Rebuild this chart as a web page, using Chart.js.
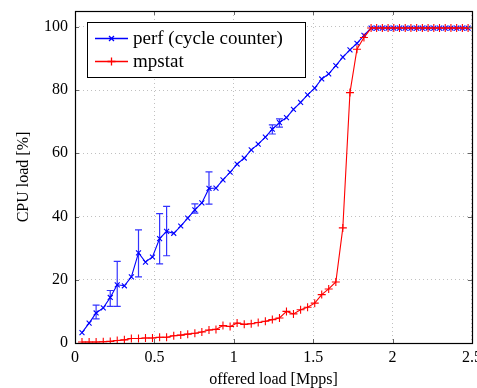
<!DOCTYPE html>
<html lang="en">
<head>
<meta charset="UTF-8" />
<title>CPU load vs offered load</title>
<script src="https://cdn.jsdelivr.net/npm/chart.js"></script>
<style>
  body { margin: 0; background: #fff; }
</style>
</head>
<body>
<canvas id="myChart" width="477" height="388"></canvas>
<script>
// offered load [Mpps], shared by both series
const loadX = [
  0.044, 0.089, 0.133, 0.178, 0.222, 0.266, 0.311, 0.355, 0.400, 0.444,
  0.488, 0.533, 0.577, 0.622, 0.666, 0.710, 0.755, 0.799, 0.844, 0.888,
  0.932, 0.977, 1.021, 1.066, 1.110, 1.154, 1.199, 1.243, 1.288, 1.332,
  1.376, 1.421, 1.465, 1.510, 1.554, 1.598, 1.643, 1.687, 1.732, 1.776,
  1.820, 1.865, 1.900, 1.936, 1.972, 2.008, 2.044, 2.080, 2.116, 2.152,
  2.188, 2.224, 2.260, 2.296, 2.332, 2.368, 2.404, 2.440, 2.476
];
// CPU load [%] measured with perf
const perfY = [
  3.3, 6.3, 9.5, 11.1, 14.4, 18.4, 18.1, 20.9, 28.5, 25.6,
  27.2, 33.0, 35.3, 34.7, 37.0, 39.5, 42.1, 44.3, 48.9, 49.0,
  51.6, 54.0, 56.6, 58.5, 61.1, 62.9, 65.1, 67.6, 69.7, 71.3,
  73.9, 76.1, 78.5, 80.6, 83.5, 85.1, 87.7, 90.4, 92.7, 94.8,
  97.3, 99.6, 99.6, 99.6, 99.6, 99.6, 99.6, 99.6, 99.6, 99.6,
  99.6, 99.6, 99.6, 99.6, 99.6, 99.6, 99.6, 99.6, 99.6
];
// CPU load [%] reported by mpstat
const mpstatY = [
  0.3, 0.3, 0.3, 0.4, 0.5, 0.8, 1.0, 1.4, 1.4, 1.6,
  1.6, 1.8, 1.8, 2.3, 2.5, 2.8, 3.1, 3.5, 4.1, 4.3,
  5.5, 5.2, 6.3, 5.9, 6.1, 6.5, 6.9, 7.4, 7.9, 10.0,
  9.2, 10.5, 11.3, 12.6, 15.3, 17.1, 19.3, 36.4, 79.2, 92.9,
  96.6, 99.6, 99.6, 99.6, 99.6, 99.6, 99.6, 99.6, 99.6, 99.6,
  99.6, 99.6, 99.6, 99.6, 99.6, 99.6, 99.6, 99.6, 99.6
];
// error bars on the perf series
const errX = [0.133, 0.222, 0.266, 0.400, 0.533, 0.577, 0.755, 0.844, 1.243, 1.288];
const errLo = [7.6, 11.6, 11.6, 20.9, 25.0, 27.6, 41.1, 43.9, 66.1, 68.3];
const errHi = [12.0, 16.6, 25.8, 35.8, 40.9, 43.2, 44.0, 54.1, 69.0, 70.9];

const xTicks = [0, 0.5, 1, 1.5, 2, 2.5];
const yTicks = [0, 20, 40, 60, 80, 100];
const seriesNames = ["perf (cycle counter)", "mpstat"];
const seriesColors = ["#0000ff", "#ff0000"];

const font = { family: "Liberation Serif", size: 16 };

function drawMarker(ctx, style, x, y, r) {
  ctx.beginPath();
  if (style === "crossRot") {
    const d = r * 0.7071;
    ctx.moveTo(x - d, y - d); ctx.lineTo(x + d, y + d);
    ctx.moveTo(x - d, y + d); ctx.lineTo(x + d, y - d);
  } else {
    ctx.moveTo(x - r, y); ctx.lineTo(x + r, y);
    ctx.moveTo(x, y - r); ctx.lineTo(x, y + r);
  }
  ctx.stroke();
}

// vertical error bars with caps
const errorBars = {
  id: "errorBars",
  afterDatasetsDraw(chart) {
    const { ctx, scales: { x, y } } = chart;
    ctx.save();
    ctx.strokeStyle = seriesColors[0];
    ctx.globalAlpha = 0.8;
    ctx.lineWidth = 1.2;
    errX.forEach((v, i) => {
      const px = x.getPixelForValue(v);
      const lo = y.getPixelForValue(errLo[i]);
      const hi = y.getPixelForValue(errHi[i]);
      ctx.beginPath();
      ctx.moveTo(px, lo); ctx.lineTo(px, hi);
      ctx.moveTo(px - 3.5, lo); ctx.lineTo(px + 3.5, lo);
      ctx.moveTo(px - 3.5, hi); ctx.lineTo(px + 3.5, hi);
      ctx.stroke();
    });
    ctx.restore();
  }
};

// axis box with inward ticks on all four sides, plus the boxed legend
const frame = {
  id: "frame",
  afterDraw(chart) {
    const { ctx, chartArea: a, scales: { x, y } } = chart;
    ctx.save();
    ctx.strokeStyle = "#666";
    ctx.lineWidth = 1;
    ctx.beginPath();
    xTicks.forEach(v => {
      const px = Math.round(x.getPixelForValue(v)) + 0.5;
      ctx.moveTo(px, a.bottom); ctx.lineTo(px, a.bottom - 4);
      ctx.moveTo(px, a.top); ctx.lineTo(px, a.top + 4);
    });
    yTicks.forEach(v => {
      const py = Math.round(y.getPixelForValue(v)) + 0.5;
      ctx.moveTo(a.left, py); ctx.lineTo(a.left + 4, py);
      ctx.moveTo(a.right, py); ctx.lineTo(a.right - 4, py);
    });
    ctx.stroke();
    ctx.strokeStyle = "#000";
    ctx.lineWidth = 1.2;
    ctx.strokeRect(Math.round(a.left) + 0.5, Math.round(a.top) + 0.5,
      Math.round(a.right - a.left), Math.round(a.bottom - a.top));

    const left = a.left + 12, top = a.top + 11, w = 218, h = 55;
    ctx.fillStyle = "#fff";
    ctx.fillRect(left, top, w, h);
    ctx.strokeStyle = "#000";
    ctx.lineWidth = 1;
    ctx.strokeRect(left + 0.5, top + 0.5, w, h);
    ctx.font = '19px "Liberation Serif"';
    ctx.textBaseline = "middle";
    chart.data.datasets.forEach((ds, i) => {
      const cy = top + 16.5 + i * 23;
      ctx.strokeStyle = seriesColors[i];
      ctx.lineWidth = 1.3;
      ctx.beginPath();
      ctx.moveTo(left + 8, cy); ctx.lineTo(left + 41, cy);
      ctx.stroke();
      drawMarker(ctx, ds.pointStyle, left + 24.5, cy, ds.pointRadius);
      ctx.fillStyle = "#000";
      ctx.fillText(ds.label, left + 46, cy + 1);
    });
    ctx.restore();
  }
};

const ctx = document.getElementById("myChart").getContext("2d");
new Chart(ctx, {
  type: "line",
  data: {
    datasets: [
      {
        label: seriesNames[0],
        data: loadX.map((v, i) => ({ x: v, y: perfY[i] })),
        borderColor: seriesColors[0],
        backgroundColor: seriesColors[0],
        borderWidth: 1.1,
        pointStyle: "crossRot",
        pointRadius: 3.5,
        pointBorderWidth: 1.1,
        pointBorderColor: seriesColors[0],
        fill: false,
        tension: 0,
        order: 2,
      },
      {
        label: seriesNames[1],
        data: loadX.map((v, i) => ({ x: v, y: mpstatY[i] })),
        borderColor: seriesColors[1],
        backgroundColor: seriesColors[1],
        borderWidth: 1.1,
        pointStyle: "cross",
        pointRadius: 4,
        pointBorderWidth: 1.1,
        pointBorderColor: seriesColors[1],
        fill: false,
        tension: 0,
        order: 1,
      },
    ],
  },
  options: {
    responsive: false,
    animation: false,
    devicePixelRatio: 1,
    layout: { padding: { top: 11, right: 4, left: 0, bottom: 0 } },
    plugins: { legend: { display: false }, tooltip: { enabled: false } },
    scales: {
      x: {
        type: "linear",
        min: 0,
        max: 2.5,
        afterBuildTicks: s => { s.ticks = xTicks.map(v => ({ value: v })); },
        afterFit: s => { s.height = 45; s.paddingLeft = 0; s.paddingRight = 0; },
        ticks: { font, color: "#000", padding: 5, maxRotation: 0, autoSkip: false,
          callback: v => String(v) },
        grid: { color: "#c0c0c0", drawTicks: false, borderDash: [1, 3] },
        border: { display: false, dash: [1, 3] },
        title: { display: true, text: "offered load [Mpps]", font, color: "#000", padding: { top: 0, bottom: -1 } },
      },
      y: {
        min: 0,
        max: 105,
        afterBuildTicks: s => { s.ticks = yTicks.map(v => ({ value: v })); },
        afterFit: s => { s.width = 75; s.paddingTop = 0; s.paddingBottom = 0; },
        ticks: { font, color: "#000", padding: 7, callback: v => String(v) },
        grid: { color: "#c0c0c0", drawTicks: false, borderDash: [1, 3] },
        border: { display: false, dash: [1, 3] },
        title: { display: true, text: "CPU load [%]", font, color: "#000", padding: { top: 14, bottom: 0 } },
      },
    },
  },
  plugins: [errorBars, frame],
});
</script>
</body>
</html>
